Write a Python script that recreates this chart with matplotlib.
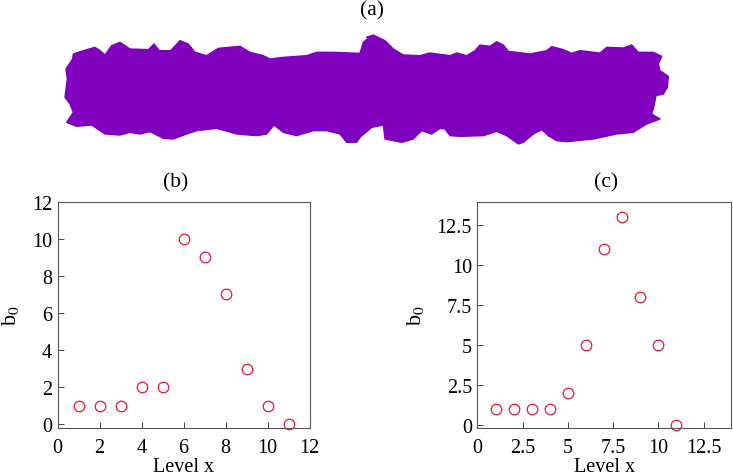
import matplotlib
matplotlib.use('Agg')
import matplotlib.pyplot as plt
import numpy as np

plt.rcParams['font.family'] = ['Liberation Serif', 'DejaVu Serif']
plt.rcParams['mathtext.fontset'] = 'stix'

# Level x and b0 for the two scatter panels
level_b = [1, 2, 3, 4, 5, 6, 7, 8, 9, 10, 11]
b0_b = [1, 1, 1, 2, 2, 10, 9, 7, 3, 1, 0]
level_c = [1, 2, 3, 4, 5, 6, 7, 8, 9, 10, 11]
b0_c = [1, 1, 1, 1, 2, 5, 11, 13, 8, 5, 0]

ticks_b = [0, 2, 4, 6, 8, 10, 12]
ticks_c = [0, 2.5, 5, 7.5, 10, 12.5]
tick_labels_c = ['0', '2.5', '5', '7.5', '10', '12.5']

top_left = [(68, 180), (70, 165), (100, 155), (135, 145), (150, 155), (165, 168), (185, 140), (210, 130),
            (240, 150), (295, 152), (312, 135), (328, 155), (362, 155), (390, 125), (415, 135), (435, 160),
            (470, 170), (505, 148), (570, 142), (600, 160), (640, 170), (660, 180), (700, 175), (770, 170),
            (800, 160), (850, 160), (930, 163), (940, 130), (960, 113)]
right_part = [(20, 115), (40, 108), (75, 125), (100, 150), (130, 168), (180, 170), (210, 162), (270, 170),
              (290, 162), (320, 170), (345, 155), (360, 138), (390, 142), (410, 128), (430, 138), (445, 157),
              (510, 165), (560, 155), (575, 143), (610, 152), (635, 163), (660, 155), (720, 162), (740, 145),
              (790, 147), (815, 138), (835, 160), (880, 160), (905, 172), (895, 195), (900, 215), (925, 232),
              (922, 265), (910, 285), (888, 290), (880, 330), (875, 345), (900, 360), (860, 375), (820, 400),
              (770, 405), (700, 420), (620, 428), (590, 425), (565, 410), (545, 392), (520, 405), (490, 430),
              (475, 435), (440, 410), (410, 397), (370, 410), (300, 412), (270, 410), (255, 390), (240, 388),
              (215, 405), (185, 395), (160, 420), (125, 430), (75, 420), (70, 378), (35, 385), (0, 415)]
bottom_left = [(920, 430), (890, 430), (870, 405), (830, 395), (790, 395), (740, 410), (700, 400), (672, 378),
               (650, 405), (620, 410), (560, 405), (500, 388), (440, 395), (410, 405), (370, 420), (340, 418),
               (300, 398), (270, 405), (240, 400), (210, 408), (165, 405), (125, 378), (80, 382), (50, 370),
               (70, 340), (60, 315), (45, 295), (52, 240), (48, 210)]

fig = plt.figure(figsize=(7.33, 4.77), dpi=100)
W, H = 733.0, 477.0


def make_axes(left, right, top, bottom):
    return fig.add_axes([left / W, 1 - bottom / H, (right - left) / W, (bottom - top) / H])


# panel (a)
blob = [(50 + x / 3, y / 3) for x, y in top_left]
blob += [(360 + x / 3, y / 3) for x, y in right_part]
blob += [(50 + x / 3, y / 3) for x, y in bottom_left]
blob = np.array(blob)

ax_a = fig.add_axes([0, 0, 1, 1])
ax_a.set_xlim(0, W)
ax_a.set_ylim(H, 0)
ax_a.axis('off')
ax_a.fill(blob[:, 0], blob[:, 1], color='#7f00bd', lw=1, joinstyle='round')
ax_a.text(372, 11, '(a)', fontsize=15.5, ha='center', va='center')

# panel (b)
ax_b = make_axes(57.7, 309.5, 202.5, 429)
ax_b.plot(level_b, b0_b, 'o', mfc='none', mec='#e3173a', ms=7.6, mew=0.9, clip_on=False)
ax_b.set_xlim(0, 12)
ax_b.set_ylim(-0.2, 12)
ax_b.set_xticks(ticks_b)
ax_b.set_yticks(ticks_b)

# panel (c)
ax_c = make_axes(477.5, 730.7, 202.5, 429)
ax_c.plot(level_c, b0_c, 'o', mfc='none', mec='#e3173a', ms=7.6, mew=0.9, clip_on=False)
ax_c.set_xlim(0, 14)
ax_c.set_ylim(-0.2, 14)
ax_c.set_xticks(ticks_c)
ax_c.set_xticklabels(tick_labels_c)
ax_c.set_yticks(ticks_c)
ax_c.set_yticklabels(tick_labels_c)

for ax, title, title_x, ylab_x in [(ax_b, '(b)', 176, -0.145), (ax_c, '(c)', 606, -0.205)]:
    ax.tick_params(direction='in', length=4, width=0.7, color='#444444', labelsize=14.5)
    ax.tick_params(axis='x', pad=7)
    ax.tick_params(axis='y', pad=4)
    for s in ax.spines.values():
        s.set_linewidth(0.8)
        s.set_color('#555555')
    ax.set_xlabel('Level x', fontsize=14.5, labelpad=0)
    ax.set_ylabel('b$_0$', fontsize=16)
    ax.yaxis.set_label_coords(ylab_x, 0.5)
    ax_a.text(title_x, 183, title, fontsize=15.5, ha='center', va='center')

fig.savefig('out.png', dpi=100)
